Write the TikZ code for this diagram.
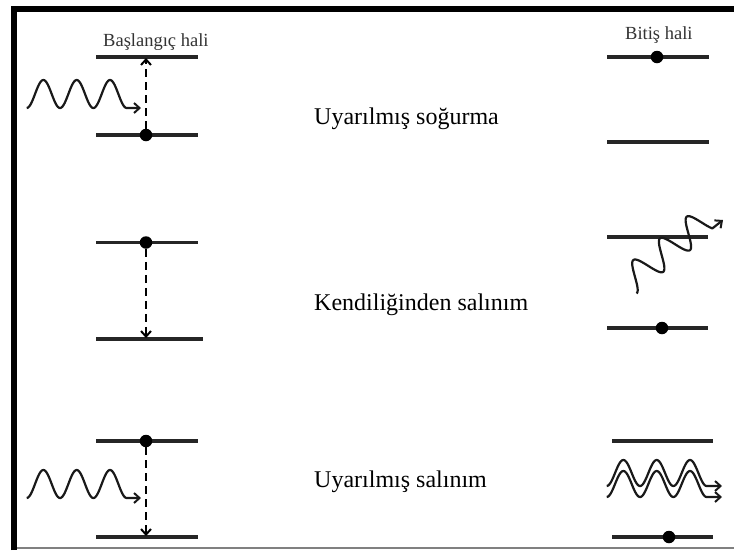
\documentclass[tikz,border=0pt]{standalone}
\usepackage{fontspec}
\setmainfont{Liberation Serif}
\usetikzlibrary{arrows.meta}
\tikzset{
  level/.style={line width=3.2pt, draw=black!85},
  electron/.style={circle, fill=black, inner sep=0pt, minimum size=12.5pt},
  trans/.style={line width=2.5pt, dash pattern=on 8pt off 5pt,
    -{Straight Barb[length=5.5pt,width=10pt,line width=2pt]}},
  photon/.style={line width=2.2pt, line join=round, draw=black!90,
    -{Straight Barb[length=5.5pt,width=10pt,line width=2pt]}},
  statelabel/.style={anchor=base west, inner sep=0pt, font=\fontsize{18.5}{22}\selectfont, text=black!80},
  proclabel/.style={anchor=base west, inner sep=0pt, font=\fontsize{24}{28}\selectfont, text=black}
}
\begin{document}
\begin{tikzpicture}[x=1pt,y=-1pt]
\useasboundingbox (0,0) rectangle (734,550);
% frame
\draw[line width=6pt, line join=miter] (14,550) -- (14,9) -- (734,9);
\draw[gray, line width=1.4pt] (17,548) -- (734,548);

% headings
\node[statelabel] (start) at (103,46) {Başlangıç hali};
\node[statelabel] (end) at (625,39.5) {Bitiş hali};

% ---------- Row 1: Uyarılmış soğurma ----------
\coordinate (r1uL) at (96,57);  \coordinate (r1uR) at (198,57);
\coordinate (r1lL) at (96,135); \coordinate (r1lR) at (198,135);
\draw[level] (r1uL) -- (r1uR);
\draw[level] (r1lL) -- (r1lR);
\node[electron] (e1) at (146,135) {};
\coordinate (t1) at (146,58);
\draw[trans] (e1) -- (t1);
\coordinate (p1) at (141,108);
\draw[photon] plot[domain=26.7:126.7, samples=120, variable=\x] (\x,{94+14*cos(10.8*(\x-26.7))}) -- (p1);
\node[proclabel] (l1) at (314,124) {Uyarılmış soğurma};

\coordinate (f1uL) at (607,57);  \coordinate (f1uR) at (709,57);
\coordinate (f1lL) at (607,142); \coordinate (f1lR) at (709,142);
\draw[level] (f1uL) -- (f1uR);
\draw[level] (f1lL) -- (f1lR);
\node[electron] (fe1) at (657,57) {};

% ---------- Row 2: Kendiliğinden salınım ----------
\coordinate (r2uL) at (96,242.5); \coordinate (r2uR) at (198,242.5);
\coordinate (r2lL) at (96,339);   \coordinate (r2lR) at (203,339);
\draw[level] (r2uL) -- (r2uR);
\draw[level] (r2lL) -- (r2lR);
\node[electron] (e2) at (146,242.5) {};
\coordinate (t2) at (146,338);
\draw[trans] (e2) -- (t2);
\node[proclabel] (l2) at (314,310) {Kendiliğinden salınım};

\coordinate (f2uL) at (607,237); \coordinate (f2uR) at (708,237);
\coordinate (f2lL) at (607,328); \coordinate (f2lR) at (708,328);
\draw[level] (f2uL) -- (f2uR);
\draw[level] (f2lL) -- (f2lR);
\node[electron] (fe2) at (662,328) {};
\coordinate (p2) at (723,220);
\draw[photon] plot[domain=-4.712:13.5, samples=160, variable=\t]
  ({648.3+4.25*\t+8.3*sin(\t r)},{265.9-3.45*\t+11.3*sin(\t r)}) -- (p2);

% ---------- Row 3: Uyarılmış salınım ----------
\coordinate (r3uL) at (96,441);  \coordinate (r3uR) at (198,441);
\coordinate (r3lL) at (96,537);  \coordinate (r3lR) at (198,537);
\draw[level] (r3uL) -- (r3uR);
\draw[level] (r3lL) -- (r3lR);
\node[electron] (e3) at (146,441) {};
\coordinate (t3) at (146,536);
\draw[trans] (e3) -- (t3);
\coordinate (p3) at (141,498);
\draw[photon] plot[domain=26.7:126.7, samples=120, variable=\x] (\x,{484+14*cos(10.8*(\x-26.7))}) -- (p3);
\node[proclabel] (l3) at (314,487) {Uyarılmış salınım};

\coordinate (f3uL) at (612,441); \coordinate (f3uR) at (713,441);
\coordinate (f3lL) at (612,537); \coordinate (f3lR) at (713,537);
\draw[level] (f3uL) -- (f3uR);
\draw[level] (f3lL) -- (f3lR);
\node[electron] (fe3) at (669,537) {};
\coordinate (p4) at (722,486);
\coordinate (p5) at (722,497);
\draw[photon] plot[domain=606.7:706.7, samples=120, variable=\x] (\x,{473+13*cos(10.8*(\x-606.7))}) -- (p4);
\draw[photon] plot[domain=606.7:706.7, samples=120, variable=\x] (\x,{484+13*cos(10.8*(\x-606.7))}) -- (p5);
\end{tikzpicture}
\end{document}
